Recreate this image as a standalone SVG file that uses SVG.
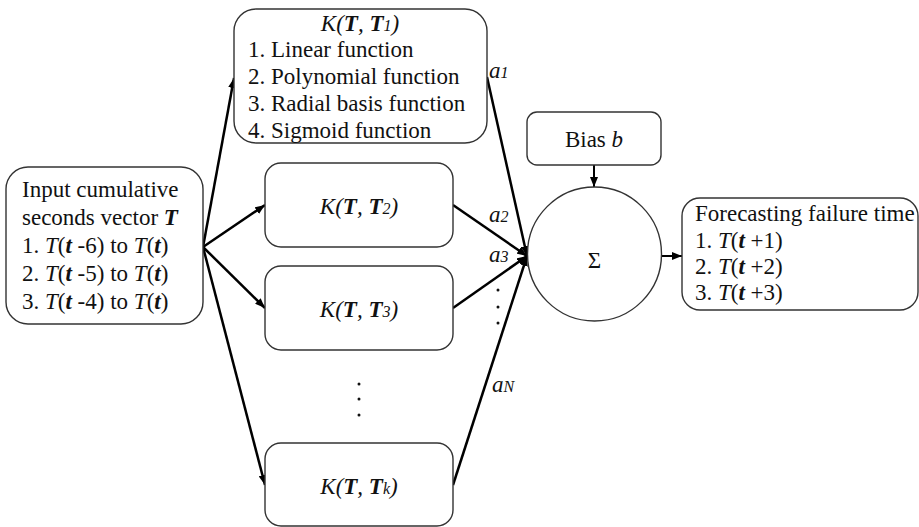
<svg xmlns="http://www.w3.org/2000/svg" width="919" height="527" viewBox="0 0 919 527">
<defs>
<marker id="ah" viewBox="0 0 10 8" refX="10" refY="4" markerWidth="10" markerHeight="8" markerUnits="userSpaceOnUse" orient="auto">
<path d="M0,0 L10,4 L0,8 z" fill="#000"/>
</marker>
</defs>
<style>
.box{fill:#fff;stroke:#333;stroke-width:1.4}
.t{font-family:'Liberation Serif','Times New Roman',serif;font-size:23px;fill:#111}
.i{font-style:italic}
.b{font-weight:bold}
.s{font-size:16px}
.c{stroke:#000;stroke-width:2.5;fill:none;marker-end:url(#ah)}
.c2{stroke:#000;stroke-width:2;fill:none;marker-end:url(#ah)}
.dot{fill:#111}
</style>
<rect width="919" height="527" fill="#fff"/>

<g id="connectors">
<line class="c" x1="203" y1="247" x2="234" y2="78"/>
<line class="c" x1="203" y1="247" x2="265" y2="205"/>
<line class="c" x1="203" y1="247" x2="265" y2="308"/>
<line class="c" x1="203" y1="247" x2="265" y2="485"/>
<line class="c" x1="487" y1="77" x2="527" y2="256"/>
<line class="c" x1="453" y1="205" x2="527" y2="256"/>
<line class="c" x1="453" y1="308" x2="527" y2="256"/>
<line class="c" x1="453" y1="485" x2="527" y2="256"/>
<line class="c2" x1="594" y1="165" x2="594" y2="187"/>
<line class="c2" x1="662" y1="256" x2="682" y2="256"/>
<text class="t i" x="489" y="78">a<tspan class="s">1</tspan></text>
<text class="t i" x="489" y="222">a<tspan class="s">2</tspan></text>
<text class="t i" x="489" y="262">a<tspan class="s">3</tspan></text>
<circle class="dot" cx="498" cy="290" r="1.5"/>
<circle class="dot" cx="498" cy="307" r="1.5"/>
<circle class="dot" cx="498" cy="323" r="1.5"/>
<text class="t i" x="492" y="392">a<tspan class="s">N</tspan></text>
</g>

<g id="input">
<rect class="box" x="6" y="167" width="197" height="157" rx="22"/>
<text class="t" x="22" y="197">Input cumulative</text>
<text class="t" x="22" y="225">seconds vector <tspan class="i b">T</tspan></text>
<text class="t" x="22" y="253">1. <tspan class="i">T</tspan>(<tspan class="i b">t</tspan> -6) to <tspan class="i">T</tspan>(<tspan class="i b">t</tspan>)</text>
<text class="t" x="22" y="281">2. <tspan class="i">T</tspan>(<tspan class="i b">t</tspan> -5) to <tspan class="i">T</tspan>(<tspan class="i b">t</tspan>)</text>
<text class="t" x="22" y="309">3. <tspan class="i">T</tspan>(<tspan class="i b">t</tspan> -4) to <tspan class="i">T</tspan>(<tspan class="i b">t</tspan>)</text>
</g>

<g id="k1">
<rect class="box" x="234" y="9" width="253" height="134" rx="22"/>
<text class="t i" x="360" y="31" text-anchor="middle">K(<tspan class="b">T</tspan>, <tspan class="b">T</tspan><tspan class="s">1</tspan>)</text>
<text class="t" x="248" y="57">1. Linear function</text>
<text class="t" x="248" y="84">2. Polynomial function</text>
<text class="t" x="248" y="111">3. Radial basis function</text>
<text class="t" x="248" y="138">4. Sigmoid function</text>
</g>

<g id="k2">
<rect class="box" x="265" y="163" width="188" height="84" rx="16"/>
<text class="t i" x="359" y="214" text-anchor="middle">K(<tspan class="b">T</tspan>, <tspan class="b">T</tspan><tspan class="s">2</tspan>)</text>
</g>

<g id="k3">
<rect class="box" x="265" y="266" width="188" height="84" rx="16"/>
<text class="t i" x="359" y="317" text-anchor="middle">K(<tspan class="b">T</tspan>, <tspan class="b">T</tspan><tspan class="s">3</tspan>)</text>
</g>

<g id="vdots">
<circle class="dot" cx="359" cy="384" r="1.5"/>
<circle class="dot" cx="359" cy="399" r="1.5"/>
<circle class="dot" cx="359" cy="415" r="1.5"/>
</g>

<g id="kk">
<rect class="box" x="265" y="443" width="188" height="83" rx="16"/>
<text class="t i" x="359" y="494" text-anchor="middle">K(<tspan class="b">T</tspan>, <tspan class="b">T</tspan><tspan class="s">k</tspan>)</text>
</g>

<g id="bias">
<rect class="box" x="527" y="112" width="134" height="53" rx="10"/>
<text class="t" x="594" y="147" text-anchor="middle">Bias <tspan class="i">b</tspan></text>
</g>

<g id="sum">
<circle class="box" cx="594.5" cy="254" r="67"/>
<text class="t" x="594.5" y="268" text-anchor="middle">&#931;</text>
</g>

<g id="output">
<rect class="box" x="682" y="198" width="236" height="112" rx="18"/>
<text class="t" x="695" y="221">Forecasting failure time</text>
<text class="t" x="695" y="248">1. <tspan class="i">T</tspan>(<tspan class="i b">t</tspan> +1)</text>
<text class="t" x="695" y="274">2. <tspan class="i">T</tspan>(<tspan class="i b">t</tspan> +2)</text>
<text class="t" x="695" y="300">3. <tspan class="i">T</tspan>(<tspan class="i b">t</tspan> +3)</text>
</g>
</svg>
